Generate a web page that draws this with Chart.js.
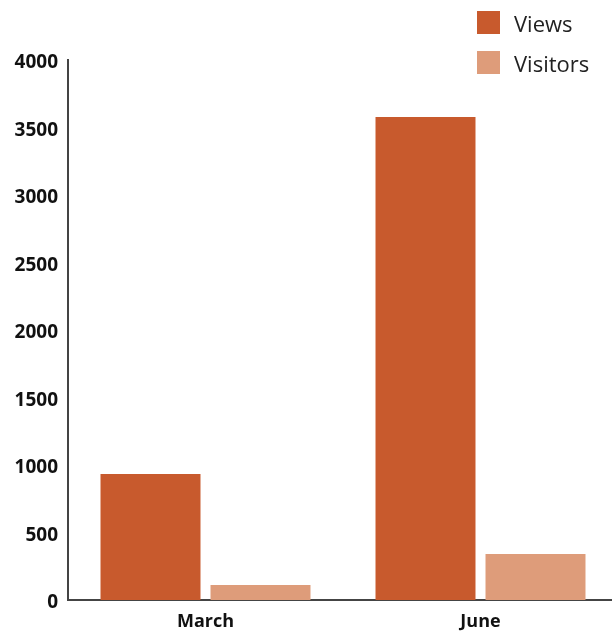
<!DOCTYPE html>
<html>
<head>
<meta charset="utf-8">
<script src="https://cdn.jsdelivr.net/npm/chart.js@4/dist/chart.umd.min.js"></script>
<style>
  html, body { margin: 0; padding: 0; background: #fff; overflow: hidden; }
  #wrap { position: relative; width: 612px; height: 633px; overflow: hidden; }
  #legend { position: absolute; left: 477px; top: 11px; font-family: "Open Sans", "DejaVu Sans", sans-serif; font-size: 22px; color: #222; }
  #legend div { display: flex; align-items: center; height: 23px; margin-bottom: 17px; }
  #legend span.box { display: inline-block; width: 23px; height: 23px; margin-right: 14px; }
</style>
</head>
<body>
<div id="wrap">
  <canvas id="chart" width="618" height="633"></canvas>
  <div id="legend"></div>
</div>
<script>
// 데이터
const categories = ['March', 'June'];
const seriesNames = ['Views', 'Visitors'];
const viewsValues = [933, 3578];
const visitorsValues = [111, 341];
const yTicks = [0, 500, 1000, 1500, 2000, 2500, 3000, 3500, 4000];

const colors = ['#C85A2D', '#DE9C7A'];

const ctx = document.getElementById('chart').getContext('2d');

const chart = new Chart(ctx, {
    type: 'bar',
    data: {
        labels: categories,
        datasets: [
            { label: seriesNames[0], data: viewsValues, backgroundColor: colors[0] },
            { label: seriesNames[1], data: visitorsValues, backgroundColor: colors[1] }
        ]
    },
    options: {
        responsive: false,
        animation: false,
        layout: { padding: { top: 60, right: 0, left: 0, bottom: 0 } },
        datasets: {
            bar: { categoryPercentage: 0.8, barPercentage: 0.909 }
        },
        plugins: {
            legend: { display: false },
            tooltip: { enabled: false }
        },
        scales: {
            x: {
                grid: { display: false, drawTicks: false },
                border: { color: '#444', width: 2 },
                ticks: {
                    color: '#111',
                    padding: 11,
                    font: { family: 'Open Sans', size: 18, weight: 'bold' }
                },
                afterFit: (scale) => { scale.height = 33; }
            },
            y: {
                min: 0,
                max: 4000,
                afterBuildTicks: (scale) => { scale.ticks = yTicks.map(v => ({ value: v })); },
                grid: { display: false, drawTicks: false },
                border: { color: '#444', width: 2 },
                ticks: {
                    color: '#111',
                    padding: 10,
                    labelOffset: 3,
                    font: { family: 'Open Sans', size: 19, weight: 'bold' },
                    callback: (v) => String(v)
                },
                afterFit: (scale) => { scale.width = 68; }
            }
        }
    }
});

// 범례 (HTML)
const legendEl = document.getElementById('legend');
chart.data.datasets.forEach(ds => {
    const row = document.createElement('div');
    row.innerHTML = '<span class="box" style="background:' + ds.backgroundColor + '"></span>' + ds.label;
    legendEl.appendChild(row);
});
</script>
</body>
</html>
